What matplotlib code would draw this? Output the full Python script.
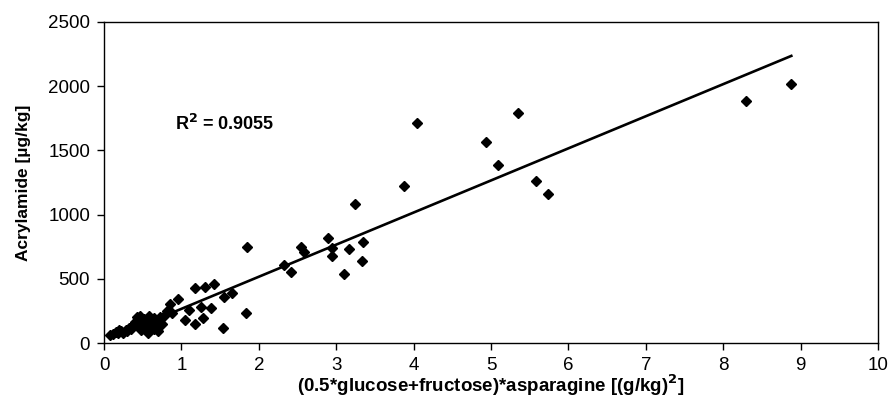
import matplotlib
matplotlib.use("Agg")
import matplotlib.pyplot as plt
import numpy as np

plt.rcParams['font.family'] = ['Liberation Sans', 'DejaVu Sans']

# Data
x_vals = [0.08, 0.12, 0.15, 0.18, 0.20, 0.22, 0.25, 0.28, 0.30, 0.32, 0.35, 0.38,
          0.40, 0.42, 0.44, 0.45, 0.47, 0.48, 0.50, 0.52, 0.53, 0.55, 0.57, 0.58,
          0.60, 0.62, 0.64, 0.65, 0.68, 0.70, 0.72, 0.75, 0.78, 0.82, 0.85, 0.88,
          0.95,
          1.05, 1.10, 1.17, 1.17, 1.25, 1.28, 1.30, 1.38, 1.42, 1.54, 1.55, 1.65,
          1.84, 1.85,
          2.32, 2.41, 2.55, 2.58, 2.89, 2.94, 2.94, 3.10, 3.16, 3.33, 3.35, 3.24,
          3.87, 4.04,
          4.94, 5.09, 5.35, 5.58, 5.74, 8.29, 8.88]
y_vals = [62, 70, 85, 75, 100, 90, 80, 105, 95, 120, 110, 140,
          160, 200, 180, 130, 210, 100, 150, 190, 120, 170, 80, 210,
          140, 175, 110, 195, 160, 90, 200, 150, 210, 250, 300, 230,
          340,
          180, 255, 148, 426, 280, 192, 440, 270, 458, 114, 358, 392,
          232, 748,
          605, 550, 745, 710, 816, 737, 675, 537, 730, 639, 784, 1084,
          1222, 1712,
          1563, 1388, 1789, 1263, 1157, 1888, 2020]

trend_slope = 250.0
trend_intercept = 16.0
r2_label = "R$^\\mathbf{2}$ = 0.9055"

x_ticks = [0, 1, 2, 3, 4, 5, 6, 7, 8, 9, 10]
y_ticks = [0, 500, 1000, 1500, 2000, 2500]

fig = plt.figure(figsize=(8.91, 4.19), dpi=100)
ax = fig.add_axes([104/891, 1-343/419, (878-104)/891, (343-22)/419])

ax.plot(x_vals, y_vals, linestyle='none', marker='D', markersize=4.6,
        color='black', zorder=3)

xs = np.array([min(x_vals), max(x_vals)])
ax.plot(xs, trend_intercept + trend_slope * xs, color='black', lw=1.9, zorder=2)

ax.set_xlim(0, 10)
ax.set_ylim(0, 2500)
ax.set_xticks(x_ticks)
ax.set_yticks(y_ticks)
ax.tick_params(direction='out', length=5, width=1, labelsize=13.5, colors='black')
ax.tick_params(axis='x', pad=5)
ax.tick_params(axis='y', pad=5)
for s in ax.spines.values():
    s.set_linewidth(1.0)
    s.set_color('black')

ax.set_xlabel("(0.5*glucose+fructose)*asparagine [(g/kg)$^\\mathbf{2}$]",
              fontsize=13.5, fontweight='bold', labelpad=-1)
ax.set_ylabel("Acrylamide [µg/kg]", fontsize=12.5, fontweight='bold', labelpad=12)

ax.text(0.92, 1659, r2_label, fontsize=13, fontweight='bold', ha='left', va='baseline')

fig.savefig("out.png", dpi=100)
